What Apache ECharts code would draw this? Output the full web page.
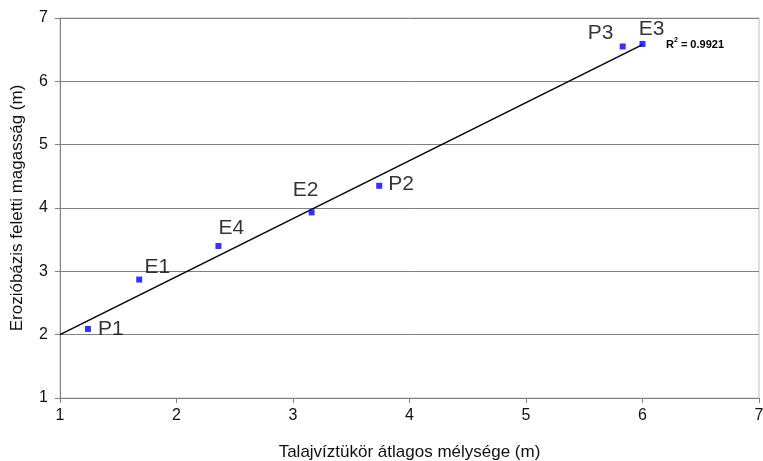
<!DOCTYPE html>
<html>
<head>
<meta charset="utf-8">
<script src="https://cdn.jsdelivr.net/npm/echarts@6/dist/echarts.min.js"></script>
<style>
  html, body { margin: 0; padding: 0; background: #fff; }
  #chart { width: 763px; height: 461px; }
</style>
</head>
<body>
<div id="chart"></div>
<script>
// mérési pontok
var pointNames = ['P1', 'E1', 'E4', 'E2', 'P2', 'P3', 'E3'];
var depthX = [1.24, 1.68, 2.36, 3.16, 3.74, 5.83, 6.00];
var heightY = [2.09, 2.87, 3.40, 3.93, 4.35, 6.55, 6.59];
// trendvonal végpontjai
var trendX = [1, 6];
var trendY = [2.0, 6.58];
var rSquared = '0.9921';

// címkék eltolása a pont közepéhez képest
var labelOffset = {
	P1: [23, 0],
	E1: [18, -12],
	E4: [13, -18],
	E2: [-6, -22],
	P2: [22, -2],
	P3: [-22, -13],
	E3: [9, -15]
};

var chart = echarts.init(document.getElementById('chart'));

var points = [];
for (var i = 0; i < pointNames.length; i++) {
	points.push({
		name: pointNames[i],
		value: [depthX[i], heightY[i]],
		label: { offset: labelOffset[pointNames[i]] }
	});
}
var trend = [];
for (var j = 0; j < trendX.length; j++) {
	trend.push([trendX[j], trendY[j]]);
}

var fontFam = 'Arial, "Liberation Sans", sans-serif';

var option = {
	animation: false,
	backgroundColor: '#fff',
	grid: {
		left: 60,
		right: 4,
		top: 18,
		bottom: 63,
		outerBoundsMode: 'none',
		containLabel: false,
		show: true,
		borderColor: '#c0c0c0',
		borderWidth: 1
	},
	xAxis: {
		type: 'value',
		min: 1,
		max: 7,
		interval: 1,
		name: 'Talajvíztükör átlagos mélysége (m)',
		nameLocation: 'middle',
		nameGap: 46,
		nameTextStyle: { fontSize: 17, color: '#111', fontFamily: fontFam },
		axisLine: { onZero: false, lineStyle: { color: '#808080', width: 1 } },
		axisTick: { show: true, length: 5, lineStyle: { color: '#808080' } },
		axisLabel: { fontSize: 16, color: '#111', margin: 10, fontFamily: fontFam },
		splitLine: { show: false }
	},
	yAxis: {
		type: 'value',
		min: 1,
		max: 7,
		interval: 1,
		name: 'Erozióbázis feletti magasság (m)',
		nameLocation: 'middle',
		nameGap: 34,
		nameTextStyle: { fontSize: 17, color: '#111', fontFamily: fontFam },
		axisLine: { show: true, onZero: false, lineStyle: { color: '#808080', width: 1 } },
		axisTick: { show: true, length: 5, lineStyle: { color: '#808080' } },
		axisLabel: { fontSize: 16, color: '#111', margin: 12, fontFamily: fontFam },
		splitLine: { show: true, lineStyle: { color: '#808080', width: 1 } }
	},
	series: [
		{
			name: 'trend',
			type: 'line',
			data: trend,
			showSymbol: false,
			symbol: 'none',
			lineStyle: { color: '#000', width: 1.5 },
			z: 2
		},
		{
			name: 'pontok',
			type: 'scatter',
			data: points,
			symbol: 'rect',
			symbolSize: 6,
			itemStyle: { color: '#0000ff' },
			label: {
				show: true,
				position: 'inside',
				formatter: '{b}',
				fontSize: 21,
				color: '#000',
				fontFamily: fontFam
			},
			z: 3
		}
	],
	graphic: [{
		type: 'text',
		left: 666,
		top: 37,
		style: {
			text: '{r|R}{s|2}{r| = ' + rSquared + '}',
			rich: {
				r: { fontSize: 11, fontWeight: 'bold', fill: '#000', fontFamily: fontFam, verticalAlign: 'bottom' },
				s: { fontSize: 7, fontWeight: 'bold', fill: '#000', fontFamily: fontFam, verticalAlign: 'top', padding: [0, 0, 6, 0] }
			}
		}
	}]
};

chart.setOption(option);
</script>
</body>
</html>
